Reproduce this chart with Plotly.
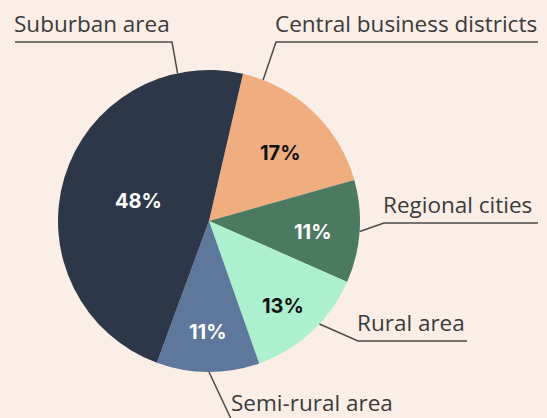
import math
import plotly.graph_objects as go

# ---- data ----
categories = ["Central business districts", "Regional cities", "Rural area",
              "Semi-rural area", "Suburban area"]
shares = [17, 11, 13, 11, 48]
pct_labels = ["17%", "11%", "13%", "11%", "48%"]

# ---- style ----
colors = ["#F0AE80", "#4B7A60", "#ADF0CF", "#5E789C", "#2C3749"]
pct_colors = ["#111111", "#FFFFFF", "#111111", "#FFFFFF", "#FFFFFF"]
pct_radius = [0.66, 0.69, 0.74, 0.72, 0.49]
pct_angle_shift = [2, 1, 1, 0, 1]
BG = "#FBEEE6"
W, H = 547, 418
CX, CY, R = 209, 221, 151
ROT = 13

# leader line layout: anchor angle on rim, elbow point (px), underline end x (px)
leader = {
    "Suburban area": (-12, (172, 42), 15),
    "Central business districts": (21, (276, 42), 538),
    "Regional cities": (94, (384, 223), 538),
    "Rural area": (133, (358, 341), 467),
    "Semi-rural area": (180, (232, 421), 402),
}

def px(x):
    return x / W

def py(y):
    return 1 - y / H

fig = go.Figure(go.Pie(
    labels=categories, values=shares, sort=False, direction="clockwise",
    rotation=ROT, marker=dict(colors=colors, line=dict(width=0)),
    textinfo="none", hoverinfo="label+percent", showlegend=False,
    domain=dict(x=[px(CX - R), px(CX + R)], y=[py(CY + R), py(CY - R)]),
))

annotations = []
shapes = []

# percentage labels at slice mid-angles
total = sum(shares)
start = ROT
for cat, v, lab, col, rf, da in zip(categories, shares, pct_labels, pct_colors,
                                    pct_radius, pct_angle_shift):
    span = 360 * v / total
    mid = math.radians(start + span / 2 + da)
    start += span
    x = CX + rf * R * math.sin(mid)
    y = CY - rf * R * math.cos(mid) + 2
    annotations.append(dict(
        x=px(x), y=py(y), xref="paper", yref="paper", text=f"<b>{lab}</b>",
        showarrow=False, font=dict(family="Inter", size=20, color=col),
        xanchor="center", yanchor="middle"))

# outside category labels with leader lines
for cat in categories:
    ang, (ex, ey), ux = leader[cat]
    a = math.radians(ang)
    ax = CX + R * math.sin(a)
    ay = CY - R * math.cos(a)
    shapes.append(dict(
        type="path", xref="paper", yref="paper",
        path=f"M {px(ax)} {py(ay)} L {px(ex)} {py(ey)} L {px(ux)} {py(ey)}",
        line=dict(color="#4A4A4A", width=1.5)))
    left = min(ex, ux)
    annotations.append(dict(
        x=px(left - 2), y=py(ey - 2), xref="paper", yref="paper", text=cat,
        showarrow=False, font=dict(family="Open Sans", size=22.5, color="#3A3A3A"),
        xanchor="left", yanchor="bottom", borderpad=0))

fig.update_layout(
    width=W, height=H, margin=dict(l=0, r=0, t=0, b=0),
    paper_bgcolor=BG, plot_bgcolor=BG,
    annotations=annotations, shapes=shapes,
)

fig.write_html(
    "out.html",
    config={"displayModeBar": False},
    post_script="document.body.style.margin='0';document.body.style.overflow='hidden';",
)
